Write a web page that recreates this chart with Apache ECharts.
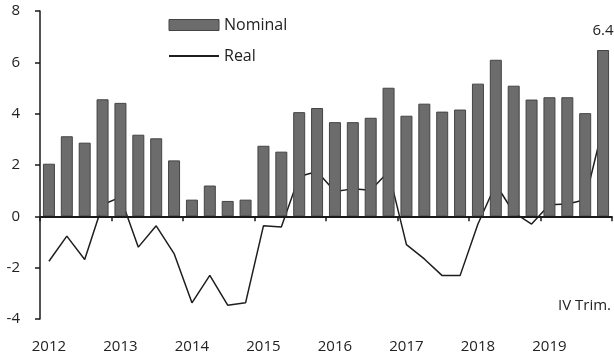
<!DOCTYPE html>
<html>
<head>
<meta charset="utf-8">
<script src="https://cdn.jsdelivr.net/npm/echarts@6/dist/echarts.min.js"></script>
<style>html,body{margin:0;padding:0;background:#fff}#c{width:614px;height:358px}</style>
</head>
<body>
<div id="c"></div>
<script>
var years = ['2012','2013','2014','2015','2016','2017','2018','2019'];
var quarters = ['I','II','III','IV'];
var nominal = [2.05, 3.12, 2.87, 4.56, 4.42, 3.18, 3.04, 2.18, 0.65, 1.2, 0.6, 0.65, 2.75, 2.52, 4.06, 4.22, 3.67, 3.67, 3.84, 5.01, 3.92, 4.39, 4.08, 4.16, 5.17, 6.10, 5.09, 4.55, 4.64, 4.64, 4.02, 6.48];
var real = [-1.75, -0.77, -1.68, 0.45, 0.75, -1.2, -0.37, -1.45, -3.37, -2.3, -3.46, -3.37, -0.37, -0.42, 1.55, 1.75, 0.97, 1.07, 1.02, 1.75, -1.1, -1.66, -2.31, -2.31, -0.3, 1.25, 0.15, -0.3, 0.45, 0.48, 0.65, 3.5];
var lastLabel = '6.4';
var yTicks = [-4, -2, 0, 2, 4, 6, 8];

var categories = [];
years.forEach(function (y) { quarters.forEach(function (q) { categories.push(y + ' ' + q); }); });

var FONT = 'Open Sans';
var chart = echarts.init(document.getElementById('c'));
var nominalData = nominal.map(function (v, i) {
  if (i === nominal.length - 1) {
    return { value: v, label: { show: true, position: 'top', distance: 12, formatter: lastLabel, fontFamily: FONT, fontSize: 15, color: '#222' } };
  }
  return v;
});
chart.setOption({
  animation: false,
  backgroundColor: '#fff',
  grid: { left: 40, right: 2, top: 11, bottom: 39 },
  legend: {
    orient: 'vertical', left: 163, top: 12, itemWidth: 50, itemHeight: 11, itemGap: 15, itemTextGap: 7,
    textStyle: { fontFamily: FONT, fontSize: 16, color: '#222' },
    data: [
      { name: 'Nominal', icon: 'rect', itemStyle: { color: '#6c6c6c', borderColor: '#444', borderWidth: 1 } },
      { name: 'Real', itemStyle: { opacity: 0 } }
    ]
  },
  xAxis: {
    type: 'category', data: categories, boundaryGap: true,
    axisLine: { lineStyle: { color: '#1a1a1a', width: 1.5 } },
    axisTick: { show: true, interval: 3, length: 5, lineStyle: { color: '#1a1a1a', width: 1.5 } },
    axisLabel: {
      interval: 3, margin: 20, fontFamily: FONT, fontSize: 15, color: '#222',
      formatter: function (v) { return v.split(' ')[0]; }
    },
    splitLine: { show: false }
  },
  yAxis: {
    type: 'value', min: yTicks[0], max: yTicks[yTicks.length - 1], interval: 2,
    axisLine: { show: true, lineStyle: { color: '#1a1a1a', width: 1.5 } },
    axisTick: { show: true, length: 5, lineStyle: { color: '#1a1a1a', width: 1.5 } },
    axisLabel: { margin: 20, fontFamily: FONT, fontSize: 15, color: '#222' },
    splitLine: { show: false }
  },
  graphic: [
    { type: 'text', right: 3, top: 298, style: { text: 'IV Trim.', fontFamily: FONT, fontSize: 15, fill: '#222' } }
  ],
  series: [
    {
      name: 'Real', type: 'line', data: real, symbol: 'none', z: 1,
      lineStyle: { color: '#1e1e1e', width: 1.5 },
      itemStyle: { color: '#1e1e1e' }
    },
    {
      name: 'Nominal', type: 'bar', data: nominalData, barWidth: 12, z: 3,
      itemStyle: { color: '#6c6c6c', borderColor: '#444', borderWidth: 1 },
      markLine: {
        silent: true, symbol: ['none', 'none'], label: { show: false },
        lineStyle: { color: '#1a1a1a', width: 2, type: 'solid' },
        data: [{ yAxis: 0 }]
      }
    }
  ]
});
</script>
</body>
</html>
